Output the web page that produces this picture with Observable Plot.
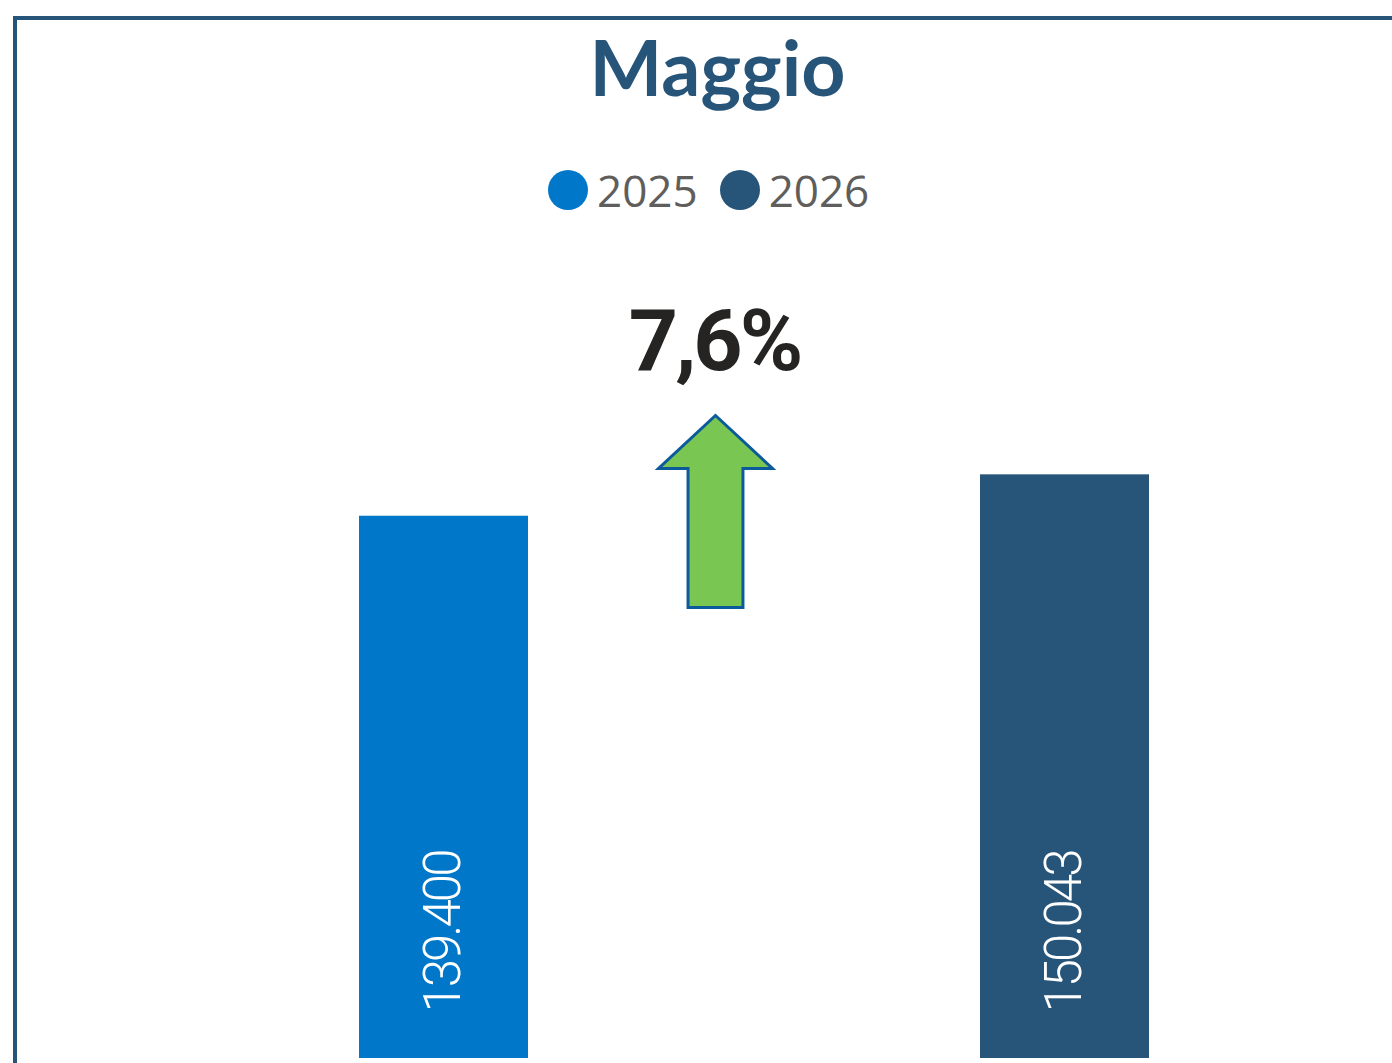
<!DOCTYPE html>
<html>
<head>
<meta charset="utf-8">
<script src="https://cdn.jsdelivr.net/npm/d3@7"></script>
<script src="https://cdn.jsdelivr.net/npm/@observablehq/plot@0.6"></script>
<style>
  html, body { margin: 0; padding: 0; background: #fff; }
  body { width: 1392px; height: 1063px; overflow: hidden; position: relative; }
  #frame { position: absolute; left: 13px; top: 16px; width: 1500px; height: 1200px;
           border-top: 4px solid #27557A; border-left: 4px solid #27557A; box-sizing: border-box; }
  #title { position: absolute; left: 0; width: 1435px; top: 28px; text-align: center;
           font-family: Lato, "Open Sans", sans-serif; font-weight: 700; font-size: 77px; line-height: 77px; color: #27557A; }
  #legend { position: absolute; left: 548px; top: 168px; display: flex; align-items: center; height: 44px;
            font-family: "Open Sans", sans-serif; font-size: 44px; line-height: 44px; color: #605E5C; }
  #legend .sw { width: 40px; height: 40px; border-radius: 50%; display: inline-block; margin-right: 9px; }
  #legend .it { display: flex; align-items: center; margin-right: 22px; }
  #chart { position: absolute; left: 0; top: 260px; }
  #chart svg text { letter-spacing: -3px; }
</style>
</head>
<body>
<div id="frame"></div>
<div id="title"></div>
<div id="legend"></div>
<div id="chart"></div>
<script>
// ---- data ----
const titleText = "Maggio";
const years = ["2025", "2026"];
const values = [139400, 150043];
const colors = ["#0077C8", "#27557A"];

const data = years.map((y, i) => ({year: y, value: values[i]}));
const it = d3.formatLocale({decimal: ",", thousands: ".", grouping: [3], currency: ["€", ""]});
const fmtValue = it.format(",");
const fmtPct = it.format(".1%");
const change = values[1] / values[0] - 1;
const pctLabel = fmtPct(change);

document.getElementById("title").textContent = titleText;
const legend = d3.select("#legend");
years.forEach((y, i) => {
  const item = legend.append("div").attr("class", "it");
  item.append("span").attr("class", "sw").style("background", colors[i]);
  item.append("span").text(y);
});

// up arrow symbol for the change indicator
const arrowSymbol = {
  draw(ctx, size) {
    const r = Math.sqrt(size / Math.PI);
    const headY = -r + 0.552 * r;
    const hw = 0.594 * r, sw = 0.286 * r;
    ctx.moveTo(0, -r);
    ctx.lineTo(hw, headY);
    ctx.lineTo(sw, headY);
    ctx.lineTo(sw, r);
    ctx.lineTo(-sw, r);
    ctx.lineTo(-sw, headY);
    ctx.lineTo(-hw, headY);
    ctx.closePath();
  }
};

const chart = Plot.plot({
  width: 1392,
  height: 803,
  marginLeft: 359,
  marginRight: 243,
  marginTop: 20,
  marginBottom: 5,
  x: {domain: years, paddingInner: 0.728, paddingOuter: 0, axis: null},
  y: {domain: [0, 200000], axis: null},
  color: {domain: years, range: colors},
  marks: [
    Plot.barY(data, {x: "year", y: "value", fill: "year"}),
    Plot.text(data, {
      x: "year", y: () => 0, text: d => fmtValue(d.value),
      rotate: -90, textAnchor: "start", lineAnchor: "middle", dy: -46,
      fill: "white", fontSize: 51, fontFamily: "Roboto, 'DejaVu Sans', sans-serif", fontWeight: 300
    }),
    Plot.text([pctLabel], {
      frameAnchor: "top", text: d => d, dx: -40, dy: 28,
      fill: "#252423", fontSize: 86, fontWeight: 700,
      fontFamily: "Roboto, 'DejaVu Sans', sans-serif"
    }),
    Plot.dot([change], {
      frameAnchor: "top", dx: -39, dy: 231, r: 96, symbol: arrowSymbol,
      fill: "#7AC653", stroke: "#0A5A9C", strokeWidth: 3
    })
  ]
});
document.getElementById("chart").appendChild(chart);
</script>
</body>
</html>
